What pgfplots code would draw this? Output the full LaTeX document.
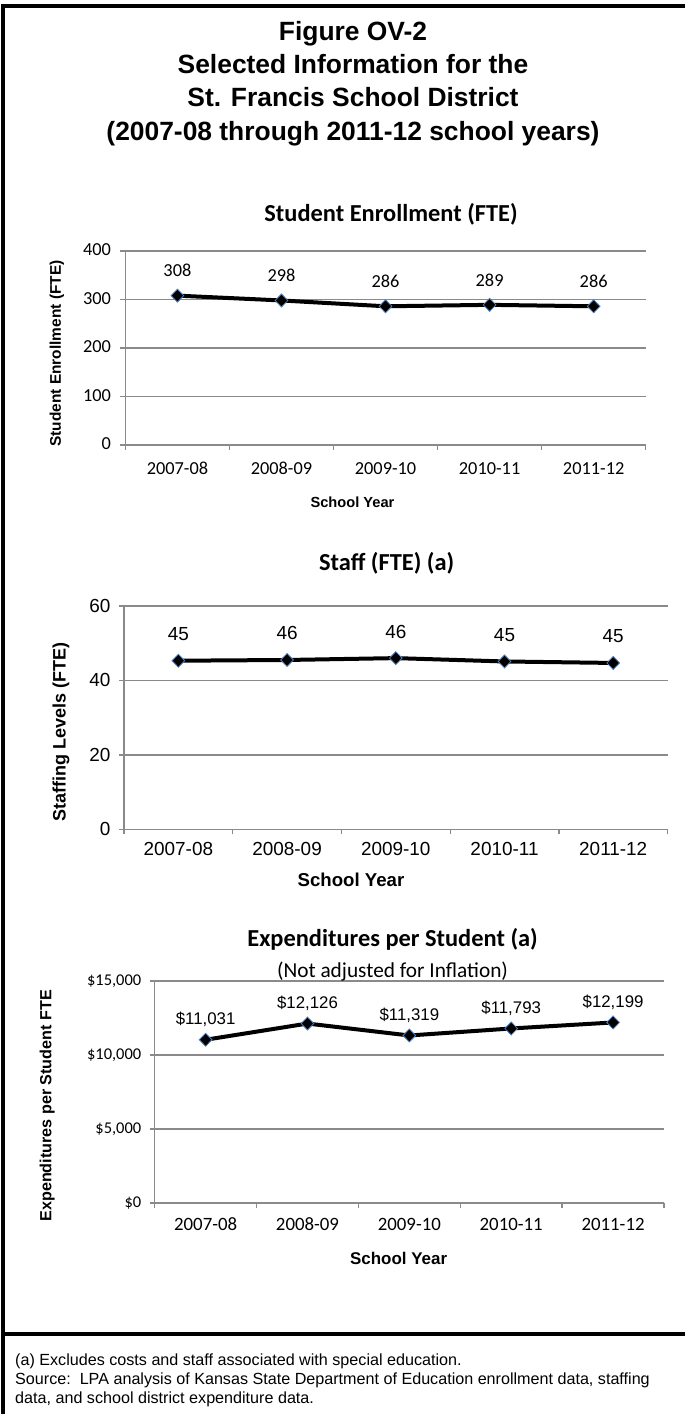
\documentclass[border=0pt]{standalone}
\usepackage{fontspec}
\setmainfont{Liberation Sans}
\newfontfamily\calibri[Numbers=Lining]{Carlito}
\usepackage{pgfplots}
\pgfplotsset{compat=1.18}
\definecolor{gridgray}{RGB}{138,138,138}
\definecolor{mkedge}{RGB}{79,129,189}
\pgfplotsset{
  excel/.style={
    scale only axis,
    xmin=-0.5, xmax=4.5,
    xtick={0,1,2,3,4},
    xticklabels={2007-08,2008-09,2009-10,2010-11,2011-12},
    minor xtick={-0.5,0.5,1.5,2.5,3.5,4.5},
    axis x line*=bottom, axis y line*=left,
    axis line style={gridgray, line width=1.3bp, -},
    ymajorgrids,
    major grid style={gridgray, line width=1.3bp},
    every major x tick/.append style={draw=none},
    tick align=outside,
    major tick length=5bp,
    minor tick length=5bp,
    tick style={gridgray, line width=1.3bp},
    scaled y ticks=false,
    clip=false,
    point meta=explicit symbolic,
    nodes near coords,
    every node near coord/.append style={anchor=center, text=black},
    title style={anchor=base, yshift=0pt, font=\calibri\bfseries\fontsize{24.5}{28}\selectfont},
    xlabel style={anchor=base, font=\bfseries\fontsize{15}{17}\selectfont},
    ylabel style={anchor=center, font=\bfseries\fontsize{15.5}{17}\selectfont},
  },
  dline/.style={black, line width=4bp, mark=diamond*, mark size=6.5bp,
    mark options={fill=black, draw=mkedge, line width=0.8bp, xscale=1.3}},
}
\begin{document}
\begin{tikzpicture}
\useasboundingbox (0bp,0bp) rectangle (685bp,-1414bp);
\fill[white] (0bp,0bp) rectangle (685bp,-1414bp);
\draw[line width=4bp] (3bp,-1414bp) -- (3bp,-6bp) -- (685bp,-6bp);
\draw[line width=3.5bp] (3bp,-1334bp) -- (685bp,-1334bp);
\begin{scope}[every node/.style={font=\bfseries\fontsize{26.5}{30}\selectfont, anchor=base}]
\node at (353bp,-40bp) {Figure OV-2};
\node at (353bp,-73bp) {Selected Information for the};
\node at (353bp,-106.5bp) {St. Francis School District};
\node at (353bp,-140bp) {(2007-08 through 2011-12 school years)};
\end{scope}
\begin{scope}[every node/.style={font=\fontsize{16.2}{19}\selectfont, anchor=base west, inner sep=0pt}]
\node at (15bp,-1365bp) {(a) Excludes costs and staff associated with special education.};
\node at (15bp,-1384bp) {Source:\ \ LPA analysis of Kansas State Department of Education enrollment data, staffing};
\node at (15bp,-1403bp) {data, and school district expenditure data.};
\end{scope}

% Chart 1
\begin{axis}[excel, at={(125.4bp,-445bp)}, anchor=south west,
  width=520.3bp, height=194bp,
  ymin=0, ymax=400, ytick={0,100,200,300,400},
  yticklabels={0,100,200,300,400},
  tick label style={font=\calibri\fontsize{18.4}{20}\selectfont, text=black, text height=12bp, text depth=3bp},
  xticklabel style={yshift=-9bp},
  yticklabel style={xshift=-6bp},
  every node near coord/.append style={font=\calibri\fontsize{18.4}{20}\selectfont, yshift=25bp},
  title={Student Enrollment (FTE)},
  title style={at={(axis description cs:0.5105,1.12)}},
  xlabel={School Year},
  xlabel style={at={(axis description cs:0.4365,-0.3196)}, font=\bfseries\fontsize{14.7}{17}\selectfont},
  ylabel={Student Enrollment (FTE)},
  ylabel style={at={(axis description cs:-0.1318,0.4716)}},
]
\addplot[dline] coordinates {(0,308) [308] (1,298) [298] (2,286) [286] (3,289) [289] (4,286) [286]};
\end{axis}

% Chart 2
\begin{axis}[excel, at={(124bp,-829.3bp)}, anchor=south west,
  width=543.6bp, height=223.3bp,
  ymin=0, ymax=60, ytick={0,20,40,60},
  yticklabels={0,20,40,60},
  tick label style={font=\fontsize{19}{21}\selectfont, text=black},
  xticklabel style={yshift=-4bp},
  yticklabel style={xshift=-5bp},
  every node near coord/.append style={font=\fontsize{19}{21}\selectfont, yshift=26.5bp},
  title={Staff (FTE) (a)},
  title style={at={(axis description cs:0.4831,1.1335)}},
  xlabel={School Year},
  xlabel style={at={(axis description cs:0.4176,-0.257)}, font=\bfseries\fontsize{18.7}{21}\selectfont},
  ylabel={Staffing Levels (FTE)},
  ylabel style={at={(axis description cs:-0.1159,0.437)}, font=\bfseries\fontsize{18.1}{21}\selectfont},
]
\addplot[dline] coordinates {(0,45.3) [45] (1,45.5) [46] (2,46.0) [46] (3,45.1) [45] (4,44.7) [45]};
\end{axis}

% Chart 3
\begin{axis}[excel, at={(154.7bp,-1203bp)}, anchor=south west,
  width=509.3bp, height=222bp,
  ymin=0, ymax=15000, ytick={0,5000,10000,15000},
  yticklabels={{\$0},{\$5,000},{\$10,000},{\$15,000}},
  tick label style={font=\calibri\fontsize{16.5}{20}\selectfont, text=black, text height=12bp, text depth=3bp},
  xticklabel style={yshift=-7bp, font=\calibri\fontsize{18.9}{20}\selectfont},
  yticklabel style={xshift=-5bp},
  every node near coord/.append style={font=\fontsize{16.9}{19}\selectfont, yshift=20.5bp},
  title={Expenditures per Student (a)},
  title style={at={(axis description cs:0.467,1.1266)}},
  xlabel={School Year},
  xlabel style={at={(axis description cs:0.479,-0.278)}, font=\bfseries\fontsize{17}{19}\selectfont},
  ylabel={Expenditures per Student FTE},
  ylabel style={at={(axis description cs:-0.211,0.438)}, font=\bfseries\fontsize{16.2}{19}\selectfont},
]
\addplot[dline] coordinates {(0,11031) [{\$11,031}] (1,12126) [{\$12,126}] (2,11319) [{\$11,319}] (3,11793) [{\$11,793}] (4,12199) [{\$12,199}]};
\node[font=\calibri\fontsize{21.4}{24}\selectfont, anchor=base] at (axis description cs:0.467,1.018) {(Not adjusted for Inflation)};
\end{axis}
\end{tikzpicture}
\end{document}
